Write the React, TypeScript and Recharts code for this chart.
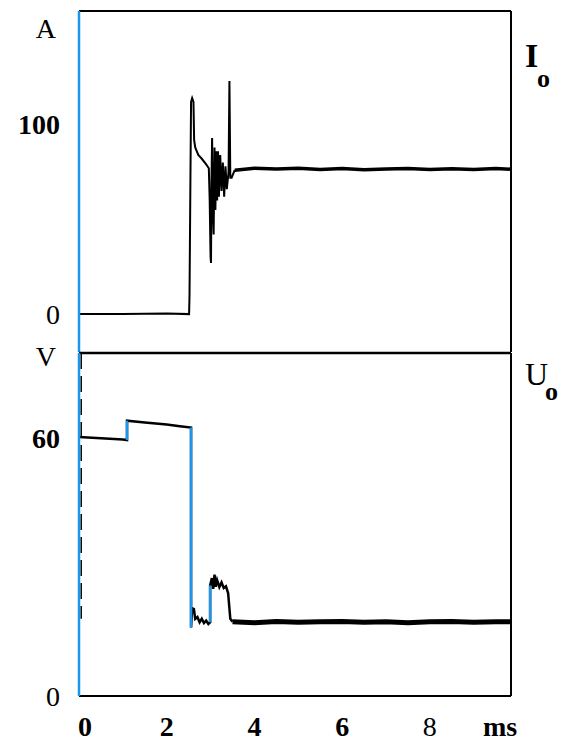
import React from 'react';
import { LineChart, Line, XAxis, YAxis, ReferenceLine, Customized } from 'recharts';

const FONT = '"Liberation Serif", "DejaVu Serif", "Times New Roman", serif';
const BLUE = '#1b96ee';
const X_MAX = 9.85;

// time axis ticks (ms)
const timeTicks = [0, 2, 4, 6, 8];
const timeTickBold = [0, 2, 4, 6];

// current panel (A)
const currentTicks = [0, 100];
const currentTickBold = [100];
const currentTime = [0, 1.0, 2.0, 2.51, 2.52, 2.54, 2.555, 2.58, 2.61, 2.625, 2.65, 2.72, 2.8, 2.9, 2.96, 2.98, 3.0, 3.01, 3.02, 3.035, 3.05, 3.07, 3.09, 3.11, 3.13, 3.15, 3.17, 3.19, 3.22, 3.25, 3.28, 3.31, 3.34, 3.37, 3.41, 3.43, 3.45, 3.48, 3.55];
const currentValue = [0, 0, 0.3, 0, 10, 70, 112, 114, 112, 92, 88, 84, 82, 79, 77, 60, 30, 27, 70, 93, 55, 42, 88, 55, 86, 60, 86, 62, 84, 65, 80, 62, 78, 66, 75, 123, 72, 72, 76];
const currentSettledTime = [3.55, 4.0, 4.5, 5.0, 5.5, 6.0, 6.5, 7.0, 7.5, 8.0, 8.5, 9.0, 9.5, 9.85];
const currentSettledValue = [76, 77, 76.6, 77, 76.4, 76.8, 76.2, 76.6, 76.9, 76.4, 76.7, 76.3, 76.8, 76.5];

// voltage panel (V)
const voltageTicks = [0, 60];
const voltageTickBold = [60];
const voltageTime = [0, 0.5, 1.0, 1.095, 1.095, 1.5, 2.0, 2.3, 2.555, 2.555, 2.58, 2.62, 2.65, 2.7, 2.75, 2.8, 2.85, 2.9, 2.95, 2.99, 2.99, 3.03, 3.06, 3.09, 3.12, 3.15, 3.2, 3.25, 3.3, 3.35, 3.4, 3.45, 3.5];
const voltageValue = [60.4, 60.1, 59.8, 59.7, 64.2, 63.8, 63.3, 62.9, 62.6, 16.0, 20.5, 20.3, 18.0, 18.4, 17.2, 18.0, 17.0, 17.6, 16.8, 17.2, 25.8, 27.5, 25.0, 28.3, 25.5, 27.0, 25.4, 26.5, 25.2, 25.6, 24.0, 18.0, 17.3];
const voltageSettledTime = [3.5, 4.0, 4.5, 5.0, 5.5, 6.0, 6.5, 7.0, 7.5, 8.0, 8.5, 9.0, 9.5, 9.85];
const voltageSettledValue = [17.3, 17.1, 17.4, 17.2, 17.3, 17.4, 17.2, 17.3, 17.1, 17.3, 17.4, 17.2, 17.3, 17.3];
// retouched (blue) vertical transitions of the voltage trace
const blueSegTime = [1.095, 1.095, 1.095, 2.555, 2.555, 2.555, 2.99, 2.99];
const blueSegValue: (number | null)[] = [59.7, 64.2, null, 62.6, 16.0, null, 17.2, 25.8];

const zip = (ts: number[], vs: (number | null)[]) => ts.map((t, i) => ({ t, v: vs[i] }));

const currentData = zip(currentTime, currentValue);
const currentSettledData = zip(currentSettledTime, currentSettledValue);
const voltageData = zip(voltageTime, voltageValue);
const voltageSettledData = zip(voltageSettledTime, voltageSettledValue);
const blueSegData = zip(blueSegTime, blueSegValue);

const makeYTick = (bold: number[]) => (props: any) => {
  const { x, y, payload } = props;
  return (
    <text x={x} y={y} textAnchor="end" dominantBaseline="central" fontFamily={FONT} fontSize={28}
      fontWeight={bold.includes(payload.value) ? 700 : 400} fill="#000">
      {payload.value}
    </text>
  );
};

const XTick = (props: any) => {
  const { x, y, payload } = props;
  const first = payload.value === 0;
  return (
    <text x={first ? x - 1 : x} y={y} textAnchor={first ? 'start' : 'middle'} dominantBaseline="central"
      fontFamily={FONT} fontSize={28} fontWeight={timeTickBold.includes(payload.value) ? 700 : 400} fill="#000">
      {payload.value}
    </text>
  );
};

const unitLabel = (text: string, dy: number) => (props: any) => {
  const vb = props.viewBox || {};
  return (
    <text x={(vb.x || 0) + (vb.width || 0) - 23} y={(vb.y || 0) + dy} textAnchor="end" dominantBaseline="central"
      fontFamily={FONT} fontSize={28} fill="#000">{text}</text>
  );
};

const TopName = () => (
  <g fontFamily={FONT} fill="#000">
    <text x={525} y={55} dominantBaseline="central" fontSize={34} fontWeight={700}>I</text>
    <text x={537} y={78} dominantBaseline="central" fontSize={26} fontWeight={700}>o</text>
  </g>
);

const BottomName = () => (
  <g fontFamily={FONT} fill="#000">
    <text x={525} y={41} dominantBaseline="central" fontSize={32}>U</text>
    <text x={545} y={58} dominantBaseline="central" fontSize={26} fontWeight={700}>o</text>
  </g>
);

const MsLabel = (props: any) => {
  const vb = props.viewBox || {};
  return (
    <text x={500} y={(vb.y || 0) + 30} textAnchor="middle" dominantBaseline="central" fontFamily={FONT}
      fontSize={28} fontWeight={700} fill="#000">ms</text>
  );
};

export default function App() {
  return (
    <div style={{ position: 'absolute', left: 0, top: 0, width: 572, height: 740, background: '#fff' }}>
      <div style={{ position: 'absolute', left: 0, top: 0 }}>
        <LineChart width={572} height={353} margin={{ top: 11, right: 61, bottom: 1, left: 0 }}>
          <XAxis type="number" dataKey="t" domain={[0, X_MAX]} hide allowDataOverflow />
          <YAxis type="number" domain={[-20, 160]} ticks={currentTicks} width={79} allowDataOverflow
            axisLine={{ stroke: BLUE, strokeWidth: 2.5 }} tickLine={false} tickMargin={13}
            tick={makeYTick(currentTickBold)} label={{ content: unitLabel('A', 17) }} />
          <ReferenceLine y={160} stroke="#000" strokeWidth={2} />
          <ReferenceLine x={X_MAX} stroke="#000" strokeWidth={2} />
          <Line data={currentData} dataKey="v" type="linear" stroke="#000" strokeWidth={2} dot={false} isAnimationActive={false} />
          <Line data={currentSettledData} dataKey="v" type="linear" stroke="#000" strokeWidth={3.5} dot={false} isAnimationActive={false} />
          <Customized component={TopName} />
        </LineChart>
      </div>
      <div style={{ position: 'absolute', left: 0, top: 333 }}>
        <LineChart width={572} height={407} margin={{ top: 20, right: 61, bottom: 0, left: 0 }}>
          <XAxis type="number" dataKey="t" domain={[0, X_MAX]} ticks={timeTicks} height={44} allowDataOverflow
            axisLine={{ stroke: '#000', strokeWidth: 2 }} tickLine={false} tickMargin={24} tick={<XTick />}
            label={{ content: <MsLabel /> }} />
          <YAxis type="number" domain={[0, 80]} ticks={voltageTicks} width={79} allowDataOverflow
            axisLine={{ stroke: BLUE, strokeWidth: 2.5 }} tickLine={false} tickMargin={13}
            tick={makeYTick(voltageTickBold)} label={{ content: unitLabel('V', 3) }} />
          <ReferenceLine y={80} stroke="#000" strokeWidth={2.5} />
          <ReferenceLine x={X_MAX} stroke="#000" strokeWidth={2} />
          <ReferenceLine segment={[{ x: 0.05, y: 80 }, { x: 0.05, y: 18 }]} stroke="#000" strokeWidth={1.5} strokeDasharray="16 7" />
          <Line data={voltageData} dataKey="v" type="linear" stroke="#000" strokeWidth={2.5} dot={false} isAnimationActive={false} />
          <Line data={voltageSettledData} dataKey="v" type="linear" stroke="#000" strokeWidth={5} dot={false} isAnimationActive={false} />
          <Line data={blueSegData} dataKey="v" type="linear" stroke={BLUE} strokeWidth={2.5} dot={false} isAnimationActive={false} />
          <Customized component={BottomName} />
        </LineChart>
      </div>
    </div>
  );
}
